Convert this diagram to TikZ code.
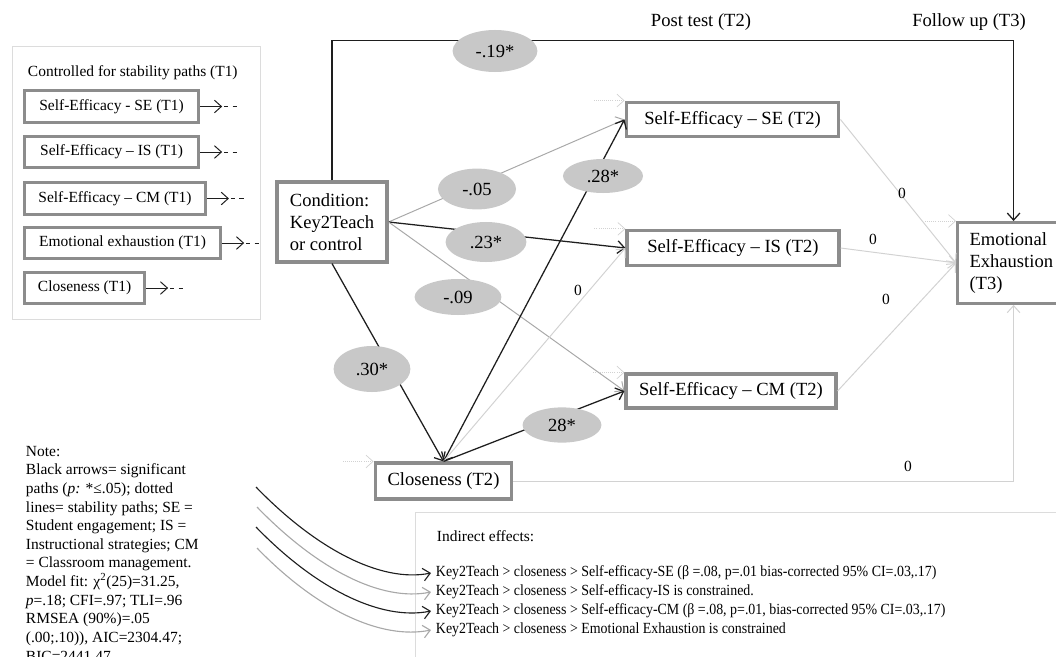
\documentclass[tikz,border=0pt]{standalone}
\usepackage{fontspec}
\setmainfont{Liberation Serif}
\usetikzlibrary{arrows.meta,shapes.geometric}
\definecolor{boxgray}{HTML}{8C8C8C}
\definecolor{ovalgray}{HTML}{C8C8C8}
\definecolor{pathgray}{HTML}{A8A8A8}
\definecolor{zerogray}{HTML}{D2D2D2}
\definecolor{framegray}{HTML}{DCDCDC}
\definecolor{ink}{HTML}{1E1E1E}
\newcommand{\narrow}[1]{\scalebox{0.9}[1]{#1}}
\tikzset{
  var/.style={draw=boxgray,line width=2.2pt,fill=white,inner xsep=0.3cm,font=\fontsize{13.2}{15.6}\selectfont},
  oldvar/.style={draw=boxgray,line width=2.2pt,fill=white,anchor=west,minimum height=0.78cm,font=\fontsize{11}{13}\selectfont},
  coef/.style={ellipse,fill=ovalgray,inner sep=0pt,font=\fontsize{13.2}{15.6}\selectfont},
  sig/.style={draw=ink,line width=0.9pt,->},
  ns/.style={draw=pathgray,line width=0.7pt,->},
  zero/.style={draw=zerogray,line width=0.7pt,->},
  stab/.style={draw=zerogray,densely dotted,line width=0.5pt,<-},
  zlabel/.style={font=\fontsize{11}{13}\selectfont},
  small/.style={font=\fontsize{11}{13.25}\selectfont}
}

\begin{document}
\begin{tikzpicture}[x=0.025cm,y=-0.025cm,>={Straight Barb[length=5pt,width=9pt]}]
  \useasboundingbox (0,0) rectangle (1056,656);

  \draw[framegray] (12,46) rectangle (260,319);
  \draw[framegray] (415,512) rectangle (1090,700);

  \node[small,anchor=west] (ltitle) at (23,73) {Controlled for stability paths (T1)};
  \node[oldvar,minimum width=4.35cm] (lse) at (23,106.5) {Self-Efficacy - SE (T1)};
  \node[oldvar,minimum width=4.35cm] (lis) at (23,152) {Self-Efficacy -- IS (T1)};
  \node[oldvar,minimum width=4.52cm] (lcm) at (23,198.5) {Self-Efficacy -- CM (T1)};
  \node[oldvar,minimum width=4.9cm] (lee) at (23,243) {Emotional exhaustion (T1)};
  \node[oldvar,minimum width=3cm] (lclo) at (23,288) {Closeness (T1)};
  \foreach \n in {lse,lis,lcm,lee,lclo} {
    \draw[ink,line width=0.7pt,->] (\n.east) -- ++(22,0);
    \draw[ink,line width=0.6pt,dash pattern=on 3pt off 3pt] (\n.east) ++(24,0) -- ++(13,0);
  }

  \node[font=\fontsize{13.2}{15.6}\selectfont] (post) at (701,22) {Post test (T2)};
  \node[font=\fontsize{13.2}{15.6}\selectfont] (follow) at (969,22) {Follow up (T3)};

  \node[var,align=left,minimum width=2.75cm,minimum height=2cm] (cond) at (332,222) {Condition:\\Key2Teach\\or control};
  \node[var,minimum width=5.32cm,minimum height=0.87cm] (se) at (732.5,119.5) {Self-Efficacy -- SE (T2)};
  \node[var,minimum width=5.3cm,minimum height=0.88cm] (is) at (733,248) {Self-Efficacy -- IS (T2)};
  \node[var,minimum width=5.25cm,minimum height=0.85cm] (cm) at (731,391) {Self-Efficacy -- CM (T2)};
  \node[var,minimum width=3.42cm,minimum height=0.9cm] (clo) at (443.5,481) {Closeness (T2)};
  \node[var,anchor=north west,align=left,text width=2.2cm,minimum height=2.02cm] (ee) at (956,221) {Emotional\\Exhaustion\\(T3)};

  \draw[stab] (se.north west) -- ++(-31,0);
  \draw[stab] (is.north west) -- ++(-31,0);
  \draw[stab] (cm.north west) -- ++(-31,0);
  \draw[stab] (ee.north west) -- ++(-31,0);
  \draw[stab] (clo.north west) -- ++(-31,0);

  \draw[sig] (cond.north) -- ++(0,-140) -| (ee.north);
  \draw[ns] (cond.east) -- (se.west);
  \draw[sig] (cond.east) -- (is.west);
  \draw[ns] (cond.east) -- (cm.west);
  \draw[sig] (cond.south) -- (clo.north);
  \draw[sig,<->] (clo.north) -- (se.west);
  \draw[zero] (clo.north) -- (is.west);
  \draw[sig] (clo.north) -- (cm.west);
  \draw[zero] (se.east) -- (ee.west);
  \draw[zero] (is.east) -- (ee.west);
  \draw[zero] (cm.east) -- (ee.west);
  \draw[zero] (clo.east) -| (ee.south);

  \node[coef,minimum width=2.12cm,minimum height=1.05cm] (c19) at (495,51) {-.19*};
  \node[coef,minimum width=1.95cm,minimum height=1.02cm] (c05) at (477,189) {-.05};
  \node[coef,minimum width=2cm,minimum height=0.85cm] (c28a) at (603,176) {.28*};
  \node[coef,minimum width=2.02cm,minimum height=1cm] (c23) at (486,242) {.23*};
  \node[coef,minimum width=2.17cm,minimum height=0.9cm] (c09) at (458,297) {-.09};
  \node[coef,minimum width=1.92cm,minimum height=1.15cm] (c30) at (372,369) {.30*};
  \node[coef,minimum width=1.97cm,minimum height=0.88cm] (c28b) at (562,425) {28*};

  \node[zlabel] (z1) at (902,193) {0};
  \node[zlabel] (z2) at (873,239) {0};
  \node[zlabel] (z3) at (886,299) {0};
  \node[zlabel] (z4) at (578,290) {0};
  \node[zlabel] (z5) at (908,466) {0};

  \node[small,anchor=north west,align=left] (note) at (21,441) {Note:\\
    Black arrows= significant\\
    paths (\textit{p:} *≤.05); dotted\\
    lines= stability paths; SE =\\
    Student engagement; IS =\\
    Instructional strategies; CM\\
    = Classroom management.\\
    Model fit: χ\textsuperscript{2}(25)=31.25,\\
    \textit{p}=.18; CFI=.97; TLI=.96\\
    RMSEA (90\%)=.05\\
    (.00;.10)), AIC=2304.47;\\
    BIC=2441.47};

  \node[small,anchor=west] (indtitle) at (432,536) {Indirect effects:};
  \node[small,anchor=west] (ind1) at (431,573) {\narrow{Key2Teach > closeness > Self-efficacy-SE (β =.08, p=.01 bias-corrected 95\% CI=.03,.17)}};
  \node[small,anchor=west] (ind2) at (431,592) {\narrow{Key2Teach > closeness > Self-efficacy-IS is constrained.}};
  \node[small,anchor=west] (ind3) at (431,611) {\narrow{Key2Teach > closeness > Self-efficacy-CM (β =.08, p=.01, bias-corrected 95\% CI=.03,.17)}};
  \node[small,anchor=west] (ind4) at (431,630) {\narrow{Key2Teach > closeness > Emotional Exhaustion is constrained}};

  \coordinate (k1) at (256,487);
  \coordinate (k2) at (257,507);
  \coordinate (k3) at (256,527);
  \coordinate (k4) at (257,548);
  \draw[ink,line width=0.8pt,->] (k1) .. controls +(60,62) and +(-50,10) .. (ind1.west);
  \draw[pathgray,line width=0.8pt,->] (k2) .. controls +(60,62) and +(-50,10) .. (ind2.west);
  \draw[ink,line width=0.8pt,->] (k3) .. controls +(60,62) and +(-50,10) .. (ind3.west);
  \draw[pathgray,line width=0.8pt,->] (k4) .. controls +(60,62) and +(-50,10) .. (ind4.west);
\end{tikzpicture}
\end{document}
